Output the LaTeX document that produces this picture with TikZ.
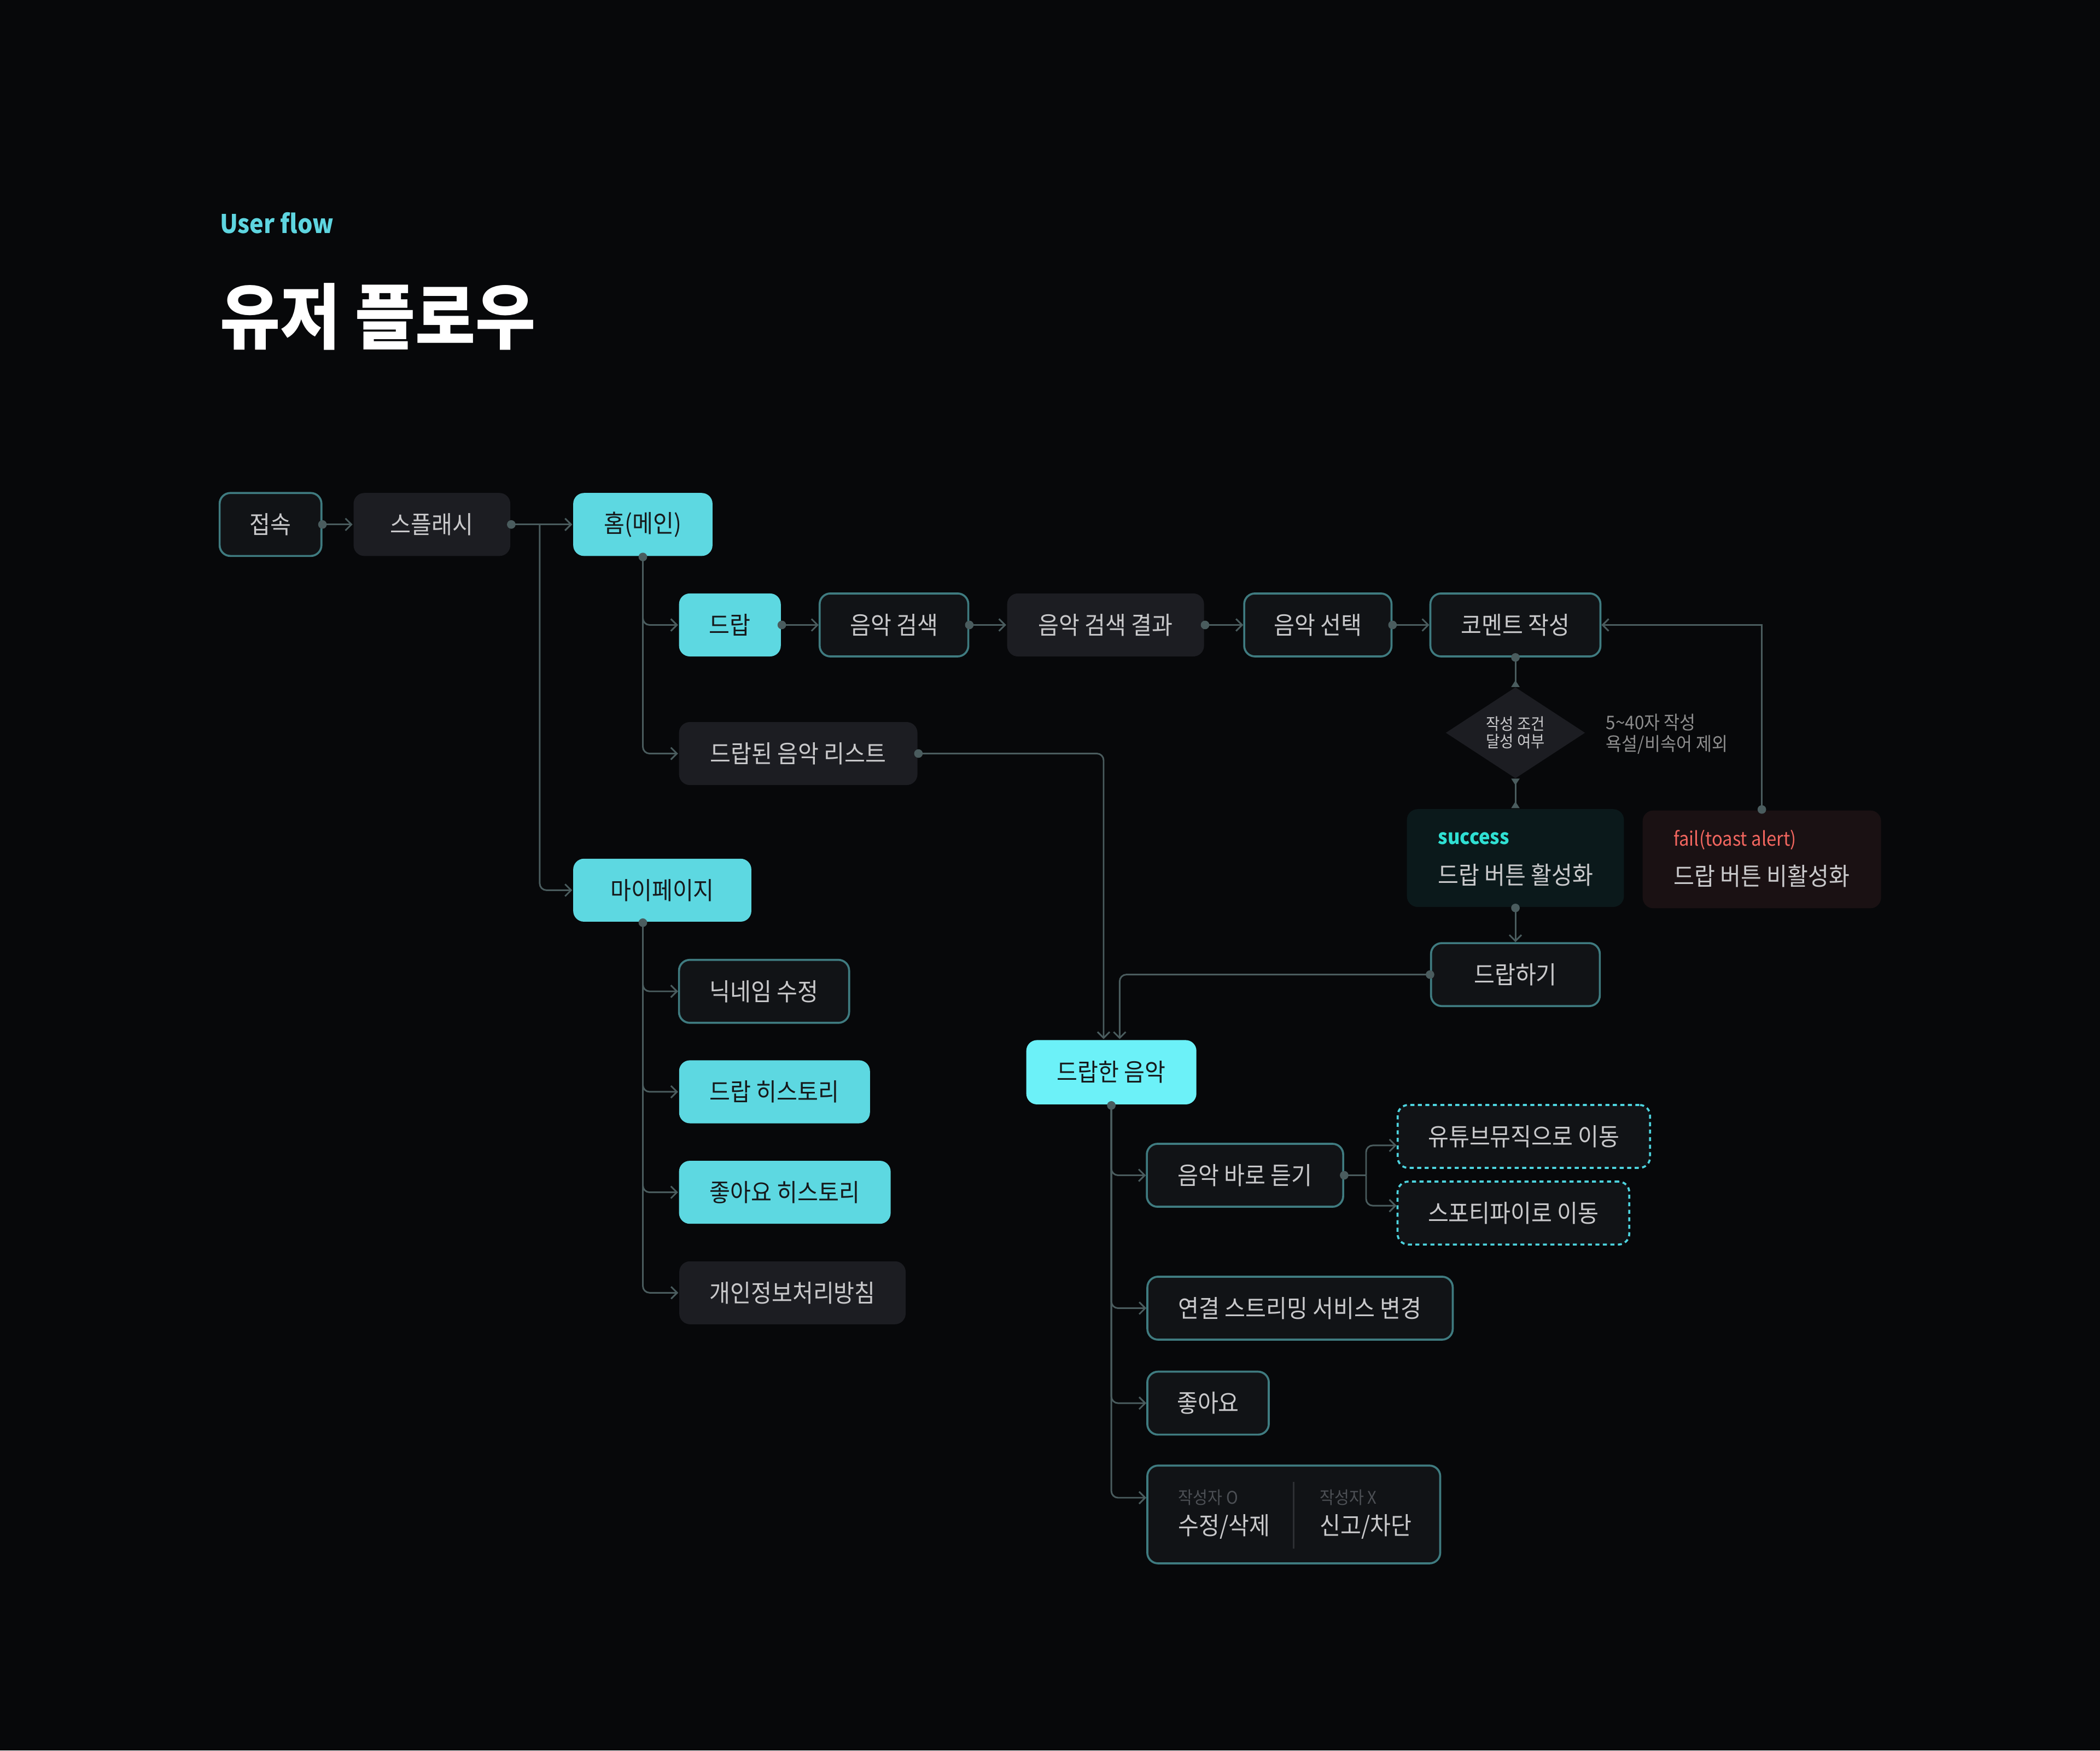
\documentclass[tikz,border=0pt]{standalone}
\usepackage{fontspec}
\setmainfont{Noto Sans CJK KR}[FakeStretch=0.92]
\usetikzlibrary{arrows.meta,shapes.geometric}
\definecolor{bg}{HTML}{07080A}
\definecolor{wirec}{HTML}{4A5C5E}
\definecolor{tealb}{HTML}{3F7B80}
\definecolor{ofill}{HTML}{111316}
\definecolor{gfill}{HTML}{1C1D22}
\definecolor{cyanf}{HTML}{5DD8E1}
\definecolor{cyanb}{HTML}{6CF1F8}
\definecolor{dtxt}{HTML}{16191B}
\definecolor{ltxt}{HTML}{C9C9CB}
\definecolor{notec}{HTML}{8D8D8D}
\definecolor{sfill}{HTML}{0B191B}
\definecolor{sc}{HTML}{2FE0D3}
\definecolor{ffill}{HTML}{1A1113}
\definecolor{fc}{HTML}{F2665F}
\definecolor{dashc}{HTML}{4DD3DE}
\definecolor{divc}{HTML}{2D2F33}
\definecolor{smallc}{HTML}{4C4F54}
\definecolor{tc}{HTML}{5ED5E0}
\newcommand{\myfs}[2]{\fontsize{#1pt}{#2pt}\selectfont}
\newcommand{\mydot}[1]{\fill[wirec] (#1) circle[radius=3.2];}
\begin{document}
\begin{tikzpicture}[x=1pt,y=-1pt,
  nbox/.style={rounded corners=8pt, minimum height=47pt, inner sep=0pt, line width=1.5pt, font=\myfs{18.3}{18.3}, text=ltxt},
  obox/.style={nbox, draw=tealb, fill=ofill},
  gbox/.style={nbox, fill=gfill},
  cbox/.style={nbox, fill=cyanf, text=dtxt},
  dbox/.style={nbox, draw=dashc, fill=ofill, dash pattern=on 3pt off 2.6pt},
  wire/.style={draw=wirec, line width=1.2pt, rounded corners=5pt},
  conn/.style={wire, -{Straight Barb[length=4.5pt,width=9pt]}},
  txt/.style={inner sep=0pt, anchor=west},
  rtip/.tip={Triangle[reversed,length=5pt,width=6pt]},
]
\fill[bg] (0,0) rectangle (1568,1306.67);
\useasboundingbox (0,0) rectangle (1568,1306.67);

% titles
\node[txt, anchor=base west, font=\bfseries\myfs{19.2}{19.2}, text=tc] (sub) at (164,174) {User flow};
\node[txt, font=\bfseries\myfs{53.1}{54}, text=white] (title) at (164,236.5) {유저 플로우};

% nodes
\node[obox, minimum width=76pt] (jeop) at (202,391.5) {접속};
\node[gbox, minimum width=117pt] (splash) at (322.5,391.5) {스플래시};
\node[cbox, minimum width=104pt] (home) at (480,391.5) {홈(메인)};
\node[cbox, minimum width=76pt] (drop) at (545,466.5) {드랍};
\node[obox, minimum width=111pt] (search) at (667.5,466.5) {음악 검색};
\node[gbox, minimum width=147pt] (result) at (825.5,466.5) {음악 검색 결과};
\node[obox, minimum width=110pt] (select) at (984,466.5) {음악 선택};
\node[obox, minimum width=127pt] (comment) at (1131.5,466.5) {코멘트 작성};
\node[diamond, fill=gfill, aspect=1.53, minimum width=104pt, minimum height=68pt, inner sep=0pt, align=center, font=\myfs{12.2}{13.2}, text=ltxt] (cond) at (1131.5,547) {작성 조건\\달성 여부};
\node[txt, align=left, font=\myfs{14}{16}, text=notec] (note) at (1199,548) {5\textasciitilde 40자 작성\\욕설/비속어 제외};

\node[nbox, fill=sfill, minimum width=162pt, minimum height=73pt] (succ) at (1131.5,640.5) {};
\node[txt, font=\bfseries\myfs{15.3}{15.3}, text=sc] (succlbl) at (1073.5,625.8) {success};
\node[txt, font=\myfs{18.3}{18.3}, text=ltxt] (succtxt) at (1073.5,653.2) {드랍 버튼 활성화};

\node[nbox, fill=ffill, minimum width=178pt, minimum height=73pt] (fail) at (1315.5,641.5) {};
\node[txt, font=\myfs{14.6}{14.6}, text=fc] (faillbl) at (1249.4,626.8) {fail(toast alert)};
\node[txt, font=\myfs{18.3}{18.3}, text=ltxt] (failtxt) at (1249.4,654) {드랍 버튼 비활성화};

\node[obox, minimum width=126pt] (dropdo) at (1131.5,727.5) {드랍하기};
\node[gbox, minimum width=178pt] (dlist) at (596,562.5) {드랍된 음악 리스트};
\node[cbox, minimum width=133pt] (mypage) at (494.5,664.5) {마이페이지};
\node[obox, minimum width=127pt] (nick) at (570.5,740) {닉네임 수정};
\node[cbox, minimum width=142.5pt] (dhist) at (578.3,815) {드랍 히스토리};
\node[cbox, minimum width=158pt] (lhist) at (586,890) {좋아요 히스토리};
\node[gbox, minimum width=169pt] (priv) at (591.7,965) {개인정보처리방침};

\node[nbox, fill=cyanb, text=dtxt, minimum width=127pt, minimum height=48pt] (dropped) at (829.8,800.4) {드랍한 음악};
\node[obox, minimum width=146.6pt] (listen) at (929.6,877.3) {음악 바로 듣기};
\node[dbox, minimum width=188.5pt] (yt) at (1137.8,848.3) {유튜브뮤직으로 이동};
\node[dbox, minimum width=173pt] (sp) at (1130,905.5) {스포티파이로 이동};
\node[obox, minimum width=228pt] (stream) at (970.7,976.5) {연결 스트리밍 서비스 변경};
\node[obox, minimum width=90.7pt] (like) at (902,1047.4) {좋아요};
\node[obox, minimum width=218.7pt, minimum height=73pt] (edit) at (966,1130.5) {};
\node[txt, font=\myfs{13}{13}, text=smallc] (own) at (879.6,1118) {작성자 O};
\node[txt, font=\myfs{18.3}{18.3}, text=ltxt] (editlbl) at (879.6,1139.5) {수정/삭제};
\node[txt, font=\myfs{13}{13}, text=smallc] (notown) at (985.2,1118) {작성자 X};
\node[txt, font=\myfs{18.3}{18.3}, text=ltxt] (report) at (985.2,1139.5) {신고/차단};
\draw[divc, line width=1.2pt] (966,1106) -- (966,1156);

% connectors
\draw[conn] (jeop.east) -- (splash.west);
\mydot{jeop.east}
\draw[conn] (splash.east) -- (home.west);
\coordinate (sj) at (403,391.5);
\draw[conn] (sj) |- (mypage.west);
\mydot{splash.east}
\draw[conn] (home.south) |- (drop.west);
\draw[conn] (home.south) |- (dlist.west);
\mydot{home.south}
\draw[conn] (drop.east) -- (search.west);
\mydot{drop.east}
\draw[conn] (search.east) -- (result.west);
\mydot{search.east}
\draw[conn] (result.east) -- (select.west);
\mydot{result.east}
\draw[conn] (select.east) -- (comment.west);
\mydot{select.east}
\draw[wire, -rtip] (comment.south) -- (cond.north);
\mydot{comment.south}
\draw[wire, rtip-rtip] (cond.south) -- (succ.north);
\draw[conn] (succ.south) -- (dropdo.north);
\mydot{succ.south}
\draw[conn, sharp corners] (fail.north) |- (comment.east);
\mydot{fail.north}
\draw[conn] (dropdo.west) -| ([xshift=6.2pt]dropped.north);
\mydot{dropdo.west}
\draw[conn] (dlist.east) -| ([xshift=-5.8pt]dropped.north);
\mydot{dlist.east}
\coordinate (mp) at (mypage.south -| home.south);
\foreach \t in {nick,dhist,lhist,priv} \draw[conn] (mp) |- (\t.west);
\mydot{mp}
\foreach \t in {listen,stream,like} \draw[conn] (dropped.south) |- (\t.west);
\draw[conn] (dropped.south) |- ([yshift=12.5pt]edit.west);
\mydot{dropped.south}
\coordinate (lj) at (1020,877.3);
\draw[wire] (listen.east) -- (lj);
\draw[conn] (lj) |- ([yshift=-6.7pt]yt.west);
\draw[conn] (lj) |- ([yshift=5.5pt]sp.west);
\mydot{listen.east}
\end{tikzpicture}
\end{document}
